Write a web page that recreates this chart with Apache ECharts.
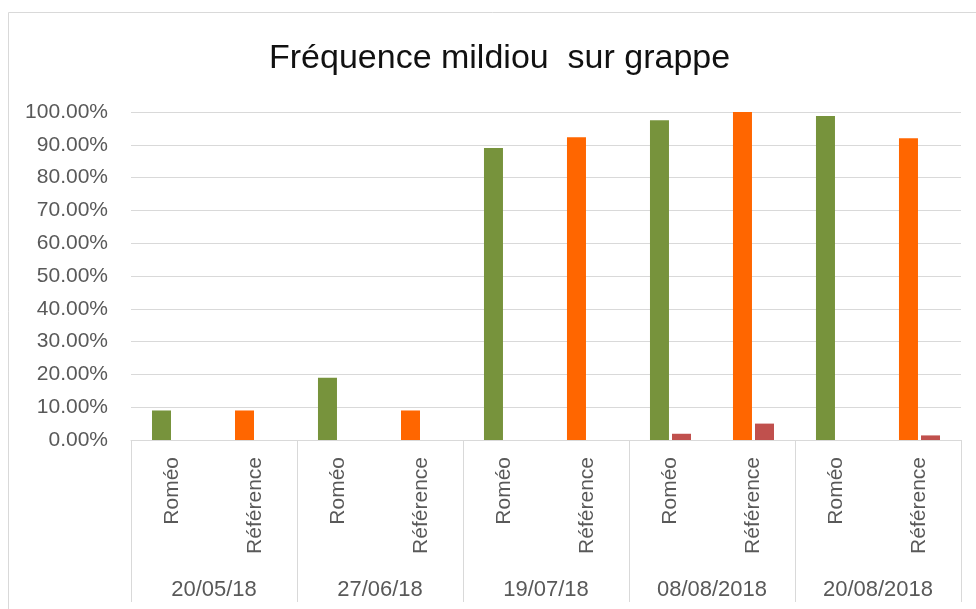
<!DOCTYPE html>
<html>
<head>
<meta charset="utf-8">
<script src="https://cdn.jsdelivr.net/npm/echarts@6/dist/echarts.min.js"></script>
<style>
html,body{margin:0;padding:0;background:#fff;}
#chart{width:976px;height:609px;}
</style>
</head>
<body>
<div id="chart"></div>
<script>
// données
var dates = ['20/05/18', '27/06/18', '19/07/18', '08/08/2018', '20/08/2018'];
var modalites = ['Roméo', 'Référence'];
var frequence = [0.09, 0.09, 0.19, 0.09, 0.89, 0.923, 0.975, 1.0, 0.988, 0.92];
var frequence2 = [0, 0, 0, 0, 0, 0, 0.019, 0.05, 0, 0.014];
var couleurs = ['#77933C', '#FF6600'];

var categories = [];
var data1 = [];
dates.forEach(function (d, i) {
	modalites.forEach(function (m, j) {
		var k = i * modalites.length + j;
		categories.push(m);
		data1.push({ value: frequence[k], itemStyle: { color: couleurs[j] } });
	});
});

var gris = '#d9d9d9';
var chart = echarts.init(document.getElementById('chart'));
chart.setOption({
	animation: false,
	title: {
		text: 'Fréquence mildiou  sur grappe',
		left: 269,
		top: 42,
		padding: 0,
		textStyle: { fontFamily: 'Liberation Sans', fontSize: 34, fontWeight: 'normal', color: '#111' }
	},
	graphic: [{
		type: 'rect',
		shape: { x: 8.5, y: 12.5, width: 1000, height: 700 },
		style: { fill: 'none', stroke: gris, lineWidth: 1 },
		silent: true,
		z: -1
	}],
	grid: { left: 131, right: 15, top: 112, bottom: 169 },
	xAxis: [{
		type: 'category',
		data: categories,
		axisLine: { lineStyle: { color: gris, width: 1 } },
		axisTick: { show: false },
		axisLabel: {
			interval: 0, rotate: 90, margin: 17,
			fontFamily: 'Liberation Sans', fontSize: 21, color: '#595959'
		}
	}, {
		type: 'category',
		data: dates,
		position: 'bottom',
		axisLine: { show: false },
		axisTick: { show: true, length: 162, interval: 0, lineStyle: { color: gris, width: 1 } },
		axisLabel: {
			interval: 0, margin: 139,
			fontFamily: 'Liberation Sans', fontSize: 22, color: '#595959'
		}
	}],
	yAxis: {
		type: 'value',
		min: 0, max: 1, interval: 0.1,
		axisLine: { show: false },
		axisTick: { show: false },
		splitLine: { lineStyle: { color: gris, width: 1 } },
		axisLabel: {
			margin: 23,
			fontFamily: 'Liberation Sans', fontSize: 21, color: '#595959',
			formatter: function (v) { return (v * 100).toFixed(2) + '%'; }
		}
	},
	series: [{
		type: 'bar',
		xAxisIndex: 0,
		data: data1,
		barWidth: 19,
		barGap: '16%'
	}, {
		type: 'bar',
		xAxisIndex: 0,
		data: frequence2,
		barWidth: 19,
		barGap: '16%',
		itemStyle: { color: '#C0504D' }
	}]
});
</script>
</body>
</html>
